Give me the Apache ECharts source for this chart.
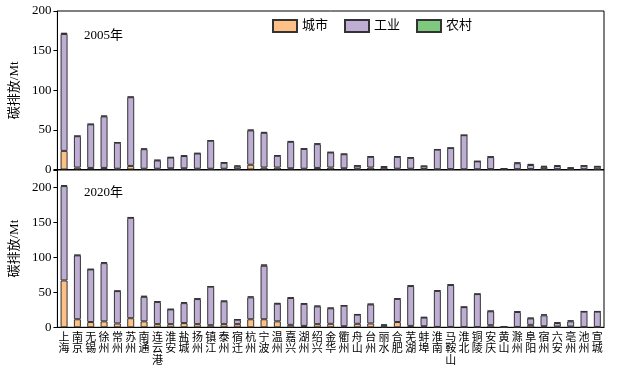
<!DOCTYPE html>
<html>
<head>
<meta charset="utf-8">
<title>碳排放</title>
<script src="https://cdn.jsdelivr.net/npm/echarts@6.0.0/dist/echarts.min.js"></script>
<style>
  html, body { margin: 0; padding: 0; background: #fff; }
  #main { width: 620px; height: 375px; }
</style>
</head>
<body>
<div id="main"></div>
<script>
// 城市名
var cities = ['上海','南京','无锡','徐州','常州','苏州','南通','连云港','淮安','盐城','扬州','镇江','泰州','宿迁',
  '杭州','宁波','温州','嘉兴','湖州','绍兴','金华','衢州','舟山','台州','丽水',
  '合肥','芜湖','蚌埠','淮南','马鞍山','淮北','铜陵','安庆','黄山','滁州','阜阳','宿州','六安','亳州','池州','宣城'];

// 2005年
var urban2005 = [23.5,2.5,2,2,1,4.5,1,1,1.5,1.5,1,1,1,1,
  6,2.5,2.5,1.5,1,2,2.5,1.5,1,2.5,2.5,
  1,1,0.5,0.3,0.5,0.3,0.3,0.5,0.5,0.4,0.5,0.4,0.4,0.4,0.3,0.3];
var industry2005 = [147.5,39.5,55,65,32.8,86.7,24.6,10.4,13.6,15.5,19.2,35.3,7.4,3,
  43.3,43.8,14.8,33.4,25,30,19,17.8,3.7,13.5,0.7,
  15,13.7,3.6,24.8,26.6,43,10,15.2,0.3,7.5,5.2,3,4,1,4.3,3.3];
var rural2005 = [1.6,0.6,0.5,1,0.5,0.8,1,0.8,0.5,0.8,0.5,0.5,0.5,1,
  1,1,0.5,1,0.5,1,0.5,0.5,0.3,0.5,1,
  0.5,0.5,0.5,0.3,0.3,0.2,0.2,0.8,0.8,1,1.4,1.2,1,1.5,0.4,0.6];

// 2020年
var urban2020 = [67,11.5,7.5,8.5,5.5,13,8.5,4.5,4.5,6,4.5,3,4.5,4.5,
  11.5,11.5,8.5,3.5,2,4.5,5,1.5,5,5.5,1,
  7.5,2,1.5,0.5,0.5,0.3,0.3,3,0.2,0.5,3.5,1.5,1,1,0.3,0.5];
var industry2020 = [135,91.4,75.3,83.3,46.3,143.6,35.1,31.8,21.1,28.6,35.9,55.1,32.7,6.4,
  31.3,76.5,25.2,38.4,31.5,25.4,22.2,29.4,13.1,27.2,1.8,
  33.1,57,12.4,51.6,60,28.6,47.2,19.9,0.2,21.4,9.2,15.6,5.1,7.5,22.1,21.9];
var rural2020 = [1.5,0.8,0.5,1.5,0.5,1,1.5,0.8,0.5,1.5,1,0.5,0.8,0.5,
  1.5,2,1,1,0.8,1,0.8,0.5,0.5,1,1.5,
  0.8,1,0.8,0.8,0.8,0.5,0.5,0.8,0.5,1,1,1.5,1,1.5,0.5,0.5];

var yTicks = [0, 50, 100, 150, 200];

var colors = { '城市': '#fdc086', '工业': '#beaed4', '农村': '#7fc97f' };
var font = 'Liberation Serif, Noto Sans CJK SC, serif';

var myChart = echarts.init(document.getElementById('main'));

function bar(name, data, idx, stack) {
  return {
    name: name,
    type: 'bar',
    stack: stack,
    xAxisIndex: idx,
    yAxisIndex: idx,
    barWidth: 7,
    data: data,
    itemStyle: { color: colors[name], borderColor: '#333', borderWidth: 1 }
  };
}

function yAxis(idx, max) {
  return {
    type: 'value',
    gridIndex: idx,
    min: yTicks[0],
    max: max,
    interval: 50,
    name: '碳排放/Mt',
    nameLocation: 'middle',
    nameGap: 28,
    nameTextStyle: { color: '#000', fontSize: 13, fontFamily: font },
    splitLine: { show: false },
    axisLine: { show: true, lineStyle: { color: '#000' } },
    axisTick: { show: true, length: 4, lineStyle: { color: '#000' } },
    axisLabel: {
      color: '#000', fontSize: 13, fontFamily: font, margin: 6,
      formatter: function (v) { return yTicks.indexOf(v) >= 0 ? v : ''; }
    }
  };
}

var option = {
  animation: false,
  textStyle: { fontFamily: font },
  title: [
    { text: '2005年', left: 79, top: 24, textStyle: { fontSize: 13, fontWeight: 'normal', color: '#000', fontFamily: font } },
    { text: '2020年', left: 79, top: 181, textStyle: { fontSize: 13, fontWeight: 'normal', color: '#000', fontFamily: font } }
  ],
  legend: {
    data: ['城市', '工业', '农村'],
    left: 267,
    top: 14,
    icon: 'rect',
    itemWidth: 24,
    itemHeight: 12,
    itemGap: 16,
    textStyle: { fontSize: 13, color: '#000', fontFamily: font }
  },
  grid: [
    { left: 52, width: 552, top: 11, height: 158.5, show: true, borderColor: '#000', borderWidth: 1 },
    { left: 52, width: 552, top: 170, height: 157.3, show: true, borderColor: '#000', borderWidth: 1 }
  ],
  xAxis: [
    {
      type: 'category', gridIndex: 0, data: cities,
      axisLine: { lineStyle: { color: '#000' } },
      axisTick: { show: false },
      axisLabel: { show: false }
    },
    {
      type: 'category', gridIndex: 1, data: cities,
      axisLine: { lineStyle: { color: '#000' } },
      axisTick: { show: false },
      axisLabel: {
        interval: 0, color: '#000', fontSize: 11, lineHeight: 11.5, margin: 5,
        fontFamily: font,
        formatter: function (v) { return v.split('').join('\n'); }
      }
    }
  ],
  yAxis: [yAxis(0, 200), yAxis(1, 225)],
  series: [
    bar('城市', urban2005, 0, 'a'),
    bar('工业', industry2005, 0, 'a'),
    bar('农村', rural2005, 0, 'a'),
    bar('城市', urban2020, 1, 'b'),
    bar('工业', industry2020, 1, 'b'),
    bar('农村', rural2020, 1, 'b')
  ]
};

myChart.setOption(option);
</script>
</body>
</html>
